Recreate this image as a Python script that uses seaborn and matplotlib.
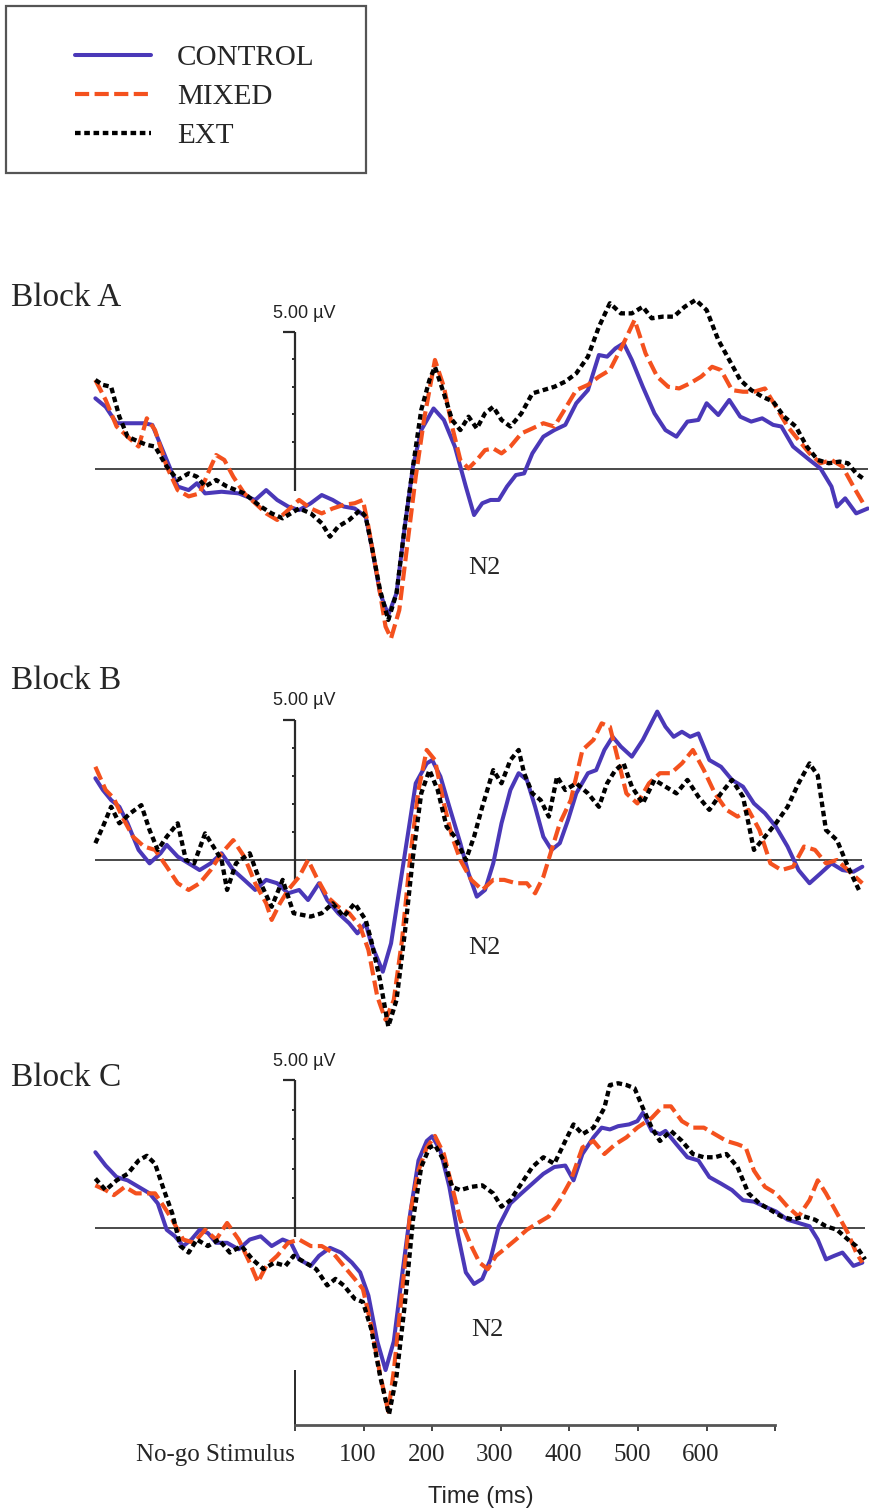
import pandas as pd
import matplotlib.pyplot as plt
import seaborn as sns
from matplotlib.patches import Rectangle
from matplotlib.font_manager import FontProperties
from matplotlib.transforms import ScaledTranslation

# --- ERP waveforms for No-go trials, three blocks, three groups ---
# time in ms (0 = No-go stimulus), amplitude in microvolts

conditions = ["CONTROL", "MIXED", "EXT"]
colors = {"CONTROL": "#4a38b8", "MIXED": "#f4511e", "EXT": "#000000"}
x_ticks = [0, 100, 200, 300, 400, 500, 600, 700]
x_tick_labels = ["No-go Stimulus", "100", "200", "300", "400", "500", "600", ""]

# Block A
a_control_t = [-291, -276, -260, -244, -220, -208, -187, -171, -155, -143, -131, -107, -82, -58, -42,
               -26, -10, 6, 23, 39, 55, 71, 87, 103, 111, 124, 136, 148, 160, 172, 184, 202, 217, 233,
               249, 261, 273, 285, 297, 309, 322, 334, 346, 362, 378, 394, 410, 427, 443, 455, 467,
               479, 491, 507, 524, 540, 556, 572, 588, 600, 617, 633, 649, 665, 681, 697, 709, 726,
               750, 766, 782, 790, 802, 818, 835]
a_control_v = [2.58, 2.27, 1.67, 1.67, 1.67, 1.61, 0.33, -0.64, -0.77, -0.52, -0.89, -0.83, -0.89,
               -1.13, -0.77, -1.13, -1.37, -1.50, -1.25, -0.95, -1.13, -1.37, -1.44, -1.74, -2.71,
               -4.53, -5.33, -4.53, -2.10, 0.09, 1.42, 2.21, 1.79, 0.82, -0.64, -1.68, -1.25, -1.13,
               -1.13, -0.64, -0.22, -0.16, 0.57, 1.18, 1.42, 1.61, 2.40, 2.88, 4.16, 4.10, 4.40, 4.59,
               3.98, 3.00, 2.03, 1.42, 1.18, 1.73, 1.79, 2.40, 1.97, 2.52, 1.91, 1.73, 1.85, 1.61,
               1.55, 0.82, 0.33, 0.02, -0.64, -1.37, -1.07, -1.62, -1.44]
a_mixed_t = [-291, -276, -260, -244, -228, -216, -204, -187, -171, -155, -139, -127, -115, -103, -90,
             -74, -58, -42, -26, -10, 6, 23, 39, 55, 71, 87, 99, 107, 120, 132, 140, 152, 164, 176,
             188, 204, 217, 229, 241, 253, 265, 277, 289, 301, 314, 330, 346, 362, 378, 394, 410, 427,
             443, 459, 479, 495, 511, 528, 544, 560, 576, 592, 608, 621, 637, 653, 669, 685, 701, 718,
             734, 750, 766, 782, 798, 814, 831]
a_mixed_v = [3.25, 2.52, 1.55, 1.18, 0.82, 1.85, 1.42, 0.09, -0.77, -1.00, -0.89, -0.16, 0.51, 0.33,
             -0.28, -0.89, -1.25, -1.62, -1.86, -1.50, -1.13, -1.44, -1.62, -1.44, -1.31, -1.25, -1.13,
             -2.10, -3.93, -5.75, -6.18, -5.15, -2.71, -0.28, 1.79, 3.98, 3.00, 1.55, 0.33, 0.02, 0.33,
             0.69, 0.75, 0.57, 0.82, 1.30, 1.48, 1.67, 1.55, 2.21, 2.88, 3.07, 3.37, 3.61, 4.59, 5.44,
             4.22, 3.37, 3.00, 2.94, 3.13, 3.37, 3.73, 3.61, 2.88, 2.82, 2.82, 2.94, 2.27, 1.55, 1.06,
             0.57, 0.21, 0.33, 0.09, -0.64, -1.37]
a_ext_t = [-291, -280, -268, -256, -244, -228, -216, -204, -187, -171, -155, -143, -131, -115, -99,
           -74, -50, -34, -18, 6, 23, 39, 51, 63, 79, 95, 103, 111, 124, 136, 148, 160, 172, 184, 196,
           204, 217, 229, 241, 253, 265, 277, 289, 301, 314, 330, 346, 362, 378, 394, 410, 427, 443,
           459, 475, 491, 507, 520, 536, 552, 568, 584, 600, 617, 633, 649, 665, 681, 697, 713, 730,
           746, 762, 778, 794, 806, 818, 831]
a_ext_v = [3.25, 3.07, 3.00, 1.91, 1.18, 1.00, 0.88, 0.82, 0.09, -0.40, -0.16, -0.28, -0.64, -0.40,
           -0.64, -0.89, -1.37, -1.62, -1.80, -1.44, -1.62, -1.98, -2.47, -2.10, -1.86, -1.50, -1.74,
           -2.71, -4.42, -5.51, -4.53, -2.10, 0.09, 2.15, 3.25, 3.73, 2.76, 1.79, 1.42, 1.91, 1.48,
           2.03, 2.27, 1.79, 1.55, 2.03, 2.76, 2.88, 3.00, 3.19, 3.49, 4.10, 5.19, 6.05, 5.68, 5.68,
           5.92, 5.50, 5.56, 5.56, 5.92, 6.17, 5.80, 4.71, 3.98, 3.25, 2.88, 2.64, 2.46, 1.91, 1.55,
           0.82, 0.33, 0.21, 0.27, 0.21, -0.16, -0.40]

# Block B
b_control_t = [-291, -280, -268, -256, -244, -228, -212, -196, -187, -171, -155, -139, -123, -107, -90,
               -74, -58, -42, -26, -10, 6, 19, 35, 47, 63, 79, 91, 103, 111, 128, 140, 152, 164, 176,
               192, 200, 212, 225, 241, 253, 265, 277, 289, 301, 314, 326, 338, 350, 362, 374, 386,
               398, 410, 427, 439, 451, 463, 475, 491, 507, 528, 540, 552, 564, 576, 588, 604, 621,
               637, 653, 669, 685, 701, 718, 734, 750, 766, 782, 798, 814, 827]
b_control_v = [2.92, 2.50, 2.14, 1.90, 1.31, 0.36, -0.12, 0.24, 0.54, 0.12, -0.12, -0.36, -0.12, 0.24,
               -0.36, -0.71, -1.07, -0.71, -0.83, -1.19, -1.07, -1.43, -0.83, -1.43, -1.90, -2.26,
               -2.62, -2.26, -2.98, -3.99, -2.98, -1.07, 0.83, 2.74, 3.45, 3.57, 2.98, 1.90, 0.60,
               -0.48, -1.31, -1.07, -0.12, 1.31, 2.50, 3.10, 2.86, 1.90, 0.83, 0.36, 0.60, 1.43, 2.38,
               3.10, 3.21, 3.93, 4.40, 4.05, 3.69, 4.29, 5.30, 4.76, 4.40, 4.58, 4.40, 4.52, 3.57,
               3.33, 2.86, 2.62, 2.02, 1.67, 1.19, 0.48, -0.36, -0.83, -0.48, -0.12, -0.36, -0.42,
               -0.24]
b_mixed_t = [-291, -276, -264, -252, -236, -220, -204, -187, -171, -155, -139, -123, -107, -90, -74,
             -58, -42, -34, -22, -10, 6, 19, 31, 47, 63, 79, 95, 107, 120, 132, 144, 156, 168, 180,
             192, 204, 217, 229, 241, 257, 273, 289, 305, 322, 338, 350, 362, 374, 386, 402, 419, 435,
             447, 459, 471, 483, 499, 516, 532, 548, 564, 580, 596, 612, 629, 645, 661, 677, 693, 709,
             726, 742, 758, 774, 790, 806, 827]
b_mixed_v = [3.33, 2.50, 2.20, 1.55, 0.83, 0.48, 0.36, -0.24, -0.83, -1.07, -0.83, -0.36, 0.24, 0.71,
             0.12, -0.83, -1.55, -2.14, -1.55, -1.07, -0.60, 0.00, -0.60, -1.31, -1.67, -1.90, -2.38,
             -3.21, -4.88, -5.71, -5.00, -2.86, 0.12, 2.50, 3.93, 3.57, 2.02, 0.83, 0.00, -0.71, -1.07,
             -0.71, -0.71, -0.83, -0.83, -1.19, -0.60, 0.36, 1.31, 2.14, 3.93, 4.29, 4.88, 4.76, 3.57,
             2.38, 2.02, 2.74, 3.10, 3.10, 3.45, 3.93, 3.21, 2.38, 1.79, 1.55, 1.79, 1.07, -0.12,
             -0.36, -0.24, 0.48, 0.36, -0.12, 0.00, -0.36, -0.83]
b_ext_t = [-291, -280, -268, -256, -240, -224, -212, -200, -187, -171, -159, -147, -131, -119, -107,
           -99, -86, -66, -50, -34, -18, -2, 23, 39, 55, 71, 87, 103, 111, 124, 136, 148, 160, 172, 184,
           196, 208, 221, 233, 249, 261, 273, 289, 301, 314, 326, 334, 346, 358, 370, 382, 394, 410,
           427, 443, 455, 467, 479, 491, 507, 524, 540, 556, 572, 588, 604, 621, 637, 653, 669, 685,
           701, 718, 734, 750, 762, 774, 790, 806, 822]
b_ext_v = [0.60, 1.19, 1.90, 1.31, 1.67, 1.96, 1.07, 0.36, 0.83, 1.31, 0.00, -0.12, 0.95, 0.48, 0.00,
           -1.07, -0.12, 0.24, -0.83, -1.67, -0.71, -1.90, -2.02, -1.90, -1.55, -2.02, -1.55, -2.14,
           -2.86, -4.29, -5.95, -5.00, -2.62, 0.12, 2.38, 3.21, 2.50, 1.19, 0.83, 0.00, 0.83, 1.90,
           3.21, 2.74, 3.57, 3.93, 3.10, 2.38, 2.14, 1.55, 2.98, 2.50, 2.74, 2.38, 1.90, 2.74, 3.21,
           3.45, 2.62, 2.02, 2.86, 2.62, 2.38, 2.86, 2.26, 1.79, 2.38, 2.86, 2.26, 0.36, 0.83, 1.31,
           1.90, 2.74, 3.45, 3.02, 1.07, 0.71, -0.24, -1.07]

# Block C
c_control_t = [-291, -276, -260, -244, -228, -212, -200, -187, -175, -163, -151, -139, -127, -115, -99,
               -82, -66, -50, -34, -18, -6, 6, 23, 35, 51, 67, 83, 95, 107, 120, 132, 144, 156, 168,
               180, 192, 200, 212, 225, 237, 249, 261, 273, 285, 297, 314, 330, 346, 362, 378, 394,
               406, 419, 435, 447, 459, 471, 487, 499, 507, 520, 532, 540, 556, 572, 588, 604, 621,
               637, 653, 669, 685, 701, 718, 734, 750, 762, 774, 786, 798, 814, 827]
c_control_v = [2.56, 2.11, 1.72, 1.61, 1.39, 1.17, 0.83, -0.06, -0.28, -0.61, -0.39, -0.06, -0.17,
               -0.50, -0.50, -0.72, -0.39, -0.28, -0.61, -0.39, -0.50, -1.06, -1.28, -0.94, -0.67,
               -0.83, -1.17, -1.50, -2.28, -3.83, -4.80, -3.83, -1.61, 0.50, 2.28, 2.94, 3.10, 2.61,
               1.39, -0.17, -1.50, -1.89, -1.72, -1.06, 0.06, 0.83, 1.17, 1.50, 1.83, 2.06, 2.11, 1.61,
               2.50, 3.06, 3.39, 3.33, 3.44, 3.50, 3.61, 3.89, 3.28, 3.17, 3.28, 2.83, 2.39, 2.28,
               1.72, 1.50, 1.28, 0.94, 0.89, 0.72, 0.56, 0.28, 0.17, 0.06, -0.39, -1.06, -0.94, -0.83,
               -1.28, -1.17]
c_mixed_t = [-291, -276, -264, -248, -232, -216, -204, -191, -179, -163, -147, -131, -115, -99, -82,
             -66, -54, -42, -26, -10, 6, 23, 39, 55, 71, 87, 99, 111, 124, 136, 144, 156, 168, 180, 192,
             204, 217, 229, 241, 257, 269, 281, 293, 305, 322, 338, 354, 370, 386, 402, 419, 435, 451,
             467, 483, 499, 520, 536, 548, 564, 580, 596, 612, 629, 645, 657, 669, 685, 701, 718, 734,
             750, 762, 774, 790, 806, 818, 827]
c_mixed_v = [1.44, 1.28, 1.11, 1.39, 1.17, 1.17, 1.17, 0.72, 0.28, -0.39, -0.50, -0.06, -0.39, 0.17,
             -0.39, -1.17, -1.83, -1.28, -0.94, -0.50, -0.39, -0.61, -0.61, -0.83, -1.28, -1.72, -2.06,
             -3.28, -4.94, -6.20, -4.83, -2.17, 0.50, 1.94, 2.72, 3.11, 2.50, 1.39, 0.28, -0.61, -1.17,
             -1.39, -0.94, -0.72, -0.39, -0.06, 0.17, 0.39, 0.94, 1.61, 2.72, 2.94, 2.50, 2.83, 3.06,
             3.39, 3.72, 4.11, 4.11, 3.61, 3.39, 3.39, 3.17, 2.94, 2.83, 2.72, 1.94, 1.39, 1.17, 0.72,
             0.39, 0.94, 1.61, 1.17, 0.50, -0.17, -0.83, -1.17]
c_ext_t = [-291, -276, -260, -244, -228, -216, -204, -191, -179, -167, -155, -143, -127, -111, -95,
           -78, -62, -46, -30, -14, -2, 15, 31, 47, 59, 71, 87, 99, 111, 124, 137, 148, 160, 172, 184,
           196, 204, 217, 229, 241, 257, 273, 289, 301, 314, 330, 346, 362, 378, 394, 406, 419, 435,
           451, 459, 471, 483, 495, 507, 520, 532, 548, 564, 580, 596, 612, 629, 645, 661, 677, 693,
           709, 726, 742, 758, 774, 790, 806, 818, 831]
c_ext_v = [1.67, 1.28, 1.61, 1.83, 2.28, 2.44, 2.17, 1.28, 0.50, -0.61, -0.83, -0.39, -0.61, -0.39,
           -0.83, -0.61, -1.06, -1.39, -1.17, -1.28, -0.94, -1.17, -1.39, -1.94, -1.72, -1.94, -2.39,
           -2.50, -3.40, -5.00, -6.30, -5.00, -2.60, 0.28, 2.06, 2.72, 2.80, 2.28, 1.39, 1.28, 1.39,
           1.44, 1.17, 0.72, 0.94, 1.50, 2.06, 2.39, 2.17, 2.94, 3.50, 3.17, 3.39, 4.06, 4.83, 4.89,
           4.83, 4.72, 4.06, 3.39, 2.94, 3.28, 2.94, 2.50, 2.39, 2.39, 2.50, 2.06, 1.17, 0.83, 0.61,
           0.39, 0.28, 0.39, 0.28, 0.06, -0.06, -0.39, -0.61, -1.06]

blocks = {
    "Block A": {"CONTROL": (a_control_t, a_control_v), "MIXED": (a_mixed_t, a_mixed_v),
                "EXT": (a_ext_t, a_ext_v)},
    "Block B": {"CONTROL": (b_control_t, b_control_v), "MIXED": (b_mixed_t, b_mixed_v),
                "EXT": (b_ext_t, b_ext_v)},
    "Block C": {"CONTROL": (c_control_t, c_control_v), "MIXED": (c_mixed_t, c_mixed_v),
                "EXT": (c_ext_t, c_ext_v)},
}

# --- styling ---
sns.set_theme(style="white")
plt.rcParams["font.family"] = ["Liberation Serif", "DejaVu Serif"]
SANS = ["Liberation Sans", "DejaVu Sans"]

line_styles = {
    "CONTROL": dict(lw=2.9, ls="-"),
    "MIXED": dict(lw=3.0, ls=(0, (3.4, 1.3))),
    "EXT": dict(lw=3.1, ls=(0, (1.3, 0.85))),
}

W, H = 869, 1512
T_LEFT, T_RIGHT = -430, 836.7


def fx(px):
    return px / W


def fy(py):
    return 1 - py / H


fig = plt.figure(figsize=(W / 100, H / 100), dpi=100)

# pixel layout of each block: axes top, axes bottom, zero line, px per microvolt
layout = {
    "Block A": dict(top=290, bottom=665, zero=469, scale=27.4, label_y=306, uv_y=313, n2=(484, 568), axis_low=-0.8),
    "Block B": dict(top=680, bottom=1050, zero=860, scale=28.0, label_y=689, uv_y=700, n2=(484, 948), axis_low=-0.7),
    "Block C": dict(top=1060, bottom=1445, zero=1228, scale=29.6, label_y=1086, uv_y=1062, n2=(487, 1330), axis_low=-0.3),
}

axes = {}
for name, series in blocks.items():
    L = layout[name]
    ax = fig.add_axes([0, fy(L["bottom"]), 1, (L["bottom"] - L["top"]) / H])
    ax.patch.set_alpha(0)
    ax.set_xlim(T_LEFT, T_RIGHT)
    ax.set_ylim(-(L["bottom"] - L["zero"]) / L["scale"], (L["zero"] - L["top"]) / L["scale"])
    sns.despine(ax=ax, left=True, bottom=True)
    ax.set_xticks([])
    ax.set_yticks([])
    ax.grid(False)

    # baseline and microvolt scale bar
    all_t = [t for c in conditions for t in series[c][0]]
    ax.hlines(0, min(all_t), max(all_t), color="#3a3a3a", lw=1.3, zorder=1)
    ax.vlines(0, L["axis_low"], 5, color="#2a2a2a", lw=1.6, zorder=1)
    ax.hlines([1, 2, 3, 4], -5, 0, color="#2a2a2a", lw=1.4, zorder=1)
    ax.hlines(5, -17, 0, color="#2a2a2a", lw=1.6, zorder=1)

    for cond in conditions:
        t, v = series[cond]
        df = pd.DataFrame({"time": t, "uv": v})
        sns.lineplot(data=df, x="time", y="uv", ax=ax, color=colors[cond], label=cond,
                     legend=False, sort=False, estimator=None, zorder=3,
                     solid_capstyle="round", solid_joinstyle="round", dash_capstyle="butt",
                     **line_styles[cond])
    ax.set_xlabel("")
    ax.set_ylabel("")

    fig.text(fx(11), fy(L["label_y"]), name, fontsize=24, ha="left", va="baseline")
    fig.text(fx(304), fy(L["uv_y"]), "5.00 µV", fontsize=13, family=SANS, ha="center", va="center",
             color="#222222")
    fig.text(fx(L["n2"][0]), fy(L["n2"][1]), "N2", fontsize=19, ha="center", va="center")
    axes[name] = ax

# time axis under block C
axc = axes["Block C"]
axis_y = -(1425 - layout["Block C"]["zero"]) / layout["Block C"]["scale"]
axc.vlines(0, axis_y, -(1370 - layout["Block C"]["zero"]) / layout["Block C"]["scale"],
           color="#2a2a2a", lw=1.4, zorder=1)
axc.spines["bottom"].set_visible(True)
axc.spines["bottom"].set_position(("data", axis_y))
axc.spines["bottom"].set_bounds(0, 700)
axc.spines["bottom"].set_color("#555555")
axc.spines["bottom"].set_linewidth(2.0)
axc.set_xticks(x_ticks)
axc.set_xticklabels(x_tick_labels, fontsize=18)
axc.tick_params(axis="x", direction="out", length=4, width=1.4, color="#444444", pad=10, bottom=True)
tick_texts = axc.get_xticklabels()
tick_texts[0].set_horizontalalignment("right")
shift = ScaledTranslation(-6 / 100, 0, fig.dpi_scale_trans)
for lbl in tick_texts[1:]:
    lbl.set_transform(lbl.get_transform() + shift)
fig.text(fx(481), fy(1497), "Time (ms)", fontsize=17, family=SANS, ha="center", va="center")

# legend
handles, labels = axes["Block A"].get_legend_handles_labels()
fig.legend(handles, labels, loc="upper left", bbox_to_anchor=(fx(75), fy(45)), frameon=False,
           prop=FontProperties(family="Liberation Serif", size=21), handlelength=2.6,
           handletextpad=0.9, labelspacing=0.42, borderpad=0, borderaxespad=0)
fig.patches.append(Rectangle((fx(6), fy(173)), fx(360), (173 - 6) / H, transform=fig.transFigure,
                             fill=False, edgecolor="#555555", lw=1.6))

fig.savefig("out.png", dpi=100)
